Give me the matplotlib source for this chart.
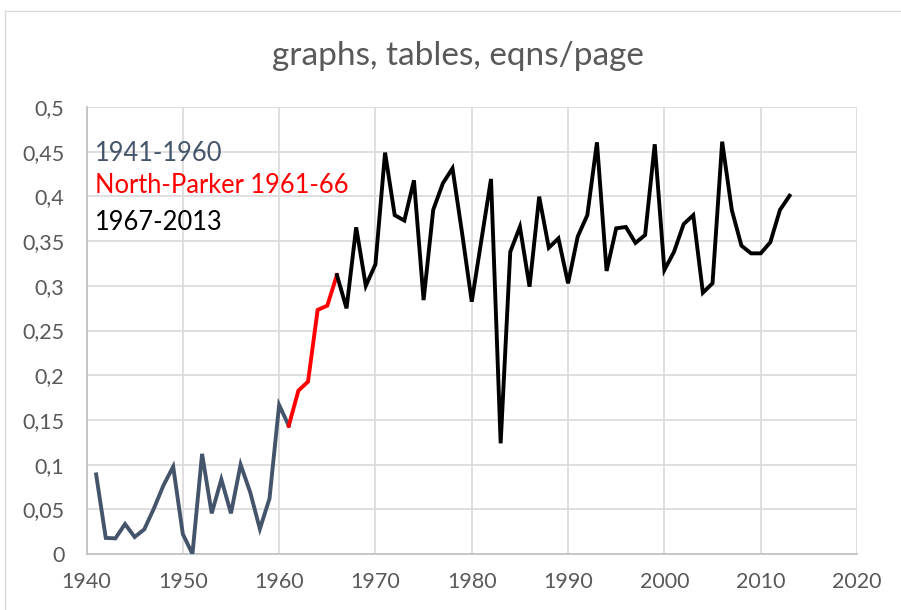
import matplotlib
matplotlib.use("Agg")
import matplotlib.pyplot as plt
from matplotlib.lines import Line2D

# ---------------- data ----------------
years_a = [1941, 1942, 1943, 1944, 1945, 1946, 1947, 1948, 1949, 1950,
           1951, 1952, 1953, 1954, 1955, 1956, 1957, 1958, 1959, 1960, 1961]
vals_a = [0.089, 0.018, 0.0175, 0.0335, 0.019, 0.0276, 0.051, 0.077, 0.0977, 0.0224,
          0.0, 0.112, 0.0455, 0.0835, 0.0455, 0.100, 0.069, 0.028, 0.062, 0.1667, 0.1435]

years_b = [1961, 1962, 1963, 1964, 1965, 1966]
vals_b = [0.1435, 0.1827, 0.1928, 0.273, 0.2778, 0.312]

years_c = list(range(1966, 2014))
vals_c = [0.312, 0.2748, 0.3654, 0.300, 0.3240, 0.449, 0.379, 0.373, 0.418, 0.284,
          0.385, 0.4146, 0.4314, 0.3587, 0.2822, 0.351, 0.4195, 0.1238, 0.338, 0.366,
          0.299, 0.3997, 0.3426, 0.353, 0.3028, 0.355, 0.379, 0.4605, 0.3166, 0.3643,
          0.3658, 0.348, 0.3568, 0.4583, 0.3177, 0.338, 0.369, 0.379, 0.2923, 0.3028,
          0.4612, 0.3848, 0.3449, 0.3363, 0.3363, 0.3487, 0.3848, 0.4008]

title = "graphs, tables, eqns/page"
labels = ["1941-1960", "North-Parker 1961-66", "1967-2013"]
colors = ["#44546A", "#FF0000", "#000000"]
xticks = [1940, 1950, 1960, 1970, 1980, 1990, 2000, 2010, 2020]
yticks = [0, 0.05, 0.1, 0.15, 0.2, 0.25, 0.3, 0.35, 0.4, 0.45, 0.5]

# ---------------- figure ----------------
plt.rcParams['font.family'] = ['Lato', 'DejaVu Sans']
W, H = 901, 610
fig = plt.figure(figsize=(W / 100, H / 100), dpi=100)
fig.patch.set_facecolor("white")

# outer chart border (light grey)
fig.add_artist(Line2D([5 / W, 1.0], [1 - 11 / H, 1 - 11 / H], transform=fig.transFigure,
                      color="#D9D9D9", lw=1.0))
fig.add_artist(Line2D([5 / W, 5 / W], [0.0, 1 - 11 / H], transform=fig.transFigure,
                      color="#D9D9D9", lw=1.0))

left, right = 86.5 / W, 857 / W
bottom, top = 1 - 554 / H, 1 - 107 / H
ax = fig.add_axes([left, bottom, right - left, top - bottom])

ax.plot(years_a, vals_a, color=colors[0], lw=2.8, solid_joinstyle="miter", zorder=3)
ax.plot(years_b, vals_b, color=colors[1], lw=2.8, solid_joinstyle="miter", zorder=3)
ax.plot(years_c, vals_c, color=colors[2], lw=2.8, solid_joinstyle="miter", zorder=3)

ax.set_xlim(1940, 2020)
ax.set_ylim(0, 0.5)
ax.set_xticks(xticks)
ax.set_yticks(yticks)
ax.set_xticklabels([str(x) for x in xticks])
ax.set_yticklabels([f"{v:g}".replace(".", ",") for v in yticks])
ax.grid(True, color="#D9D9D9", lw=1.2, zorder=0)
ax.set_axisbelow(True)
for s in ["top", "right"]:
    ax.spines[s].set_visible(False)
for s in ["left", "bottom"]:
    ax.spines[s].set_color("#BFBFBF")
    ax.spines[s].set_linewidth(1.2)
ax.tick_params(axis="both", length=0, labelsize=15.5, labelcolor="#595959")
ax.tick_params(axis="y", pad=16)
ax.tick_params(axis="x", pad=13)

fig.text(458 / W, 1 - 65 / H, title, ha="center", va="baseline",
         fontsize=24, color="#595959")

bases = [160.7, 193.3, 230]
for lab, col, b in zip(labels, colors, bases):
    fig.text(95 / W, 1 - b / H, lab, ha="left", va="baseline", fontsize=18.4, color=col)

fig.savefig("out.png", dpi=100, facecolor="white")
